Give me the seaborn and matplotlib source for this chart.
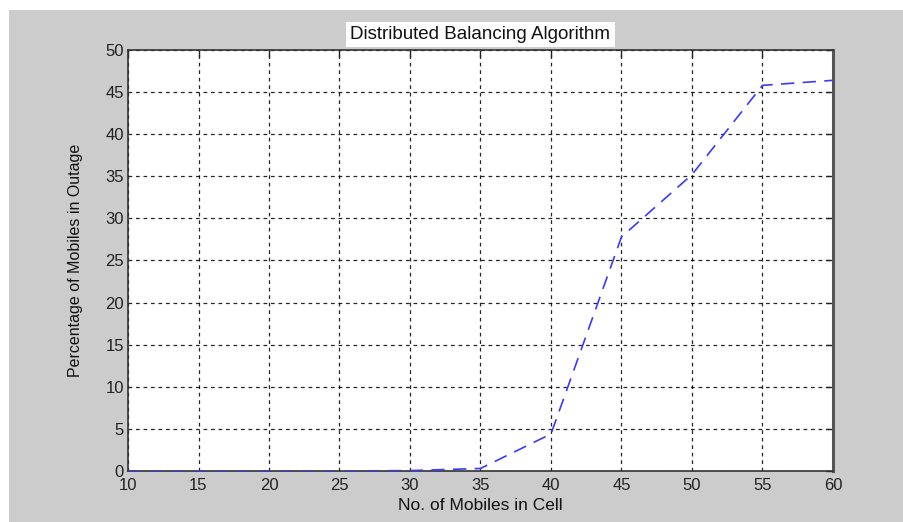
import matplotlib
matplotlib.use("Agg")
import matplotlib.pyplot as plt
import seaborn as sns
import pandas as pd
from matplotlib.patches import Rectangle

# Values
num_mobiles = [10, 15, 20, 25, 30, 35, 40, 45, 50, 55, 60]
outage_pct = [0.0, 0.0, 0.0, 0.0, 0.05, 0.3, 4.4, 27.8, 35.2, 45.8, 46.4]
x_ticks = [10, 15, 20, 25, 30, 35, 40, 45, 50, 55, 60]
y_ticks = [0, 5, 10, 15, 20, 25, 30, 35, 40, 45, 50]

df = pd.DataFrame({"mobiles": num_mobiles, "outage": outage_pct})

sns.set_style("white")
plt.rcParams["font.family"] = ["Liberation Sans", "DejaVu Sans"]

fig = plt.figure(figsize=(9.04, 5.22), dpi=100, facecolor="white")
# gray window background, white strip on top and left
fig.add_artist(Rectangle((9 / 904, 0), 1 - 9 / 904, 1 - 10 / 522,
                         transform=fig.transFigure, facecolor="#cccccc",
                         edgecolor="none", zorder=-10))

ax = fig.add_axes([128 / 904, 1 - 471 / 522, (833 - 128) / 904, (471 - 50) / 522])
ax.set_facecolor("white")

sns.lineplot(data=df, x="mobiles", y="outage", ax=ax, color="#3a3aff",
             linewidth=1.2, linestyle=(0, (8, 5)), zorder=3)

ax.set_xlim(10, 60)
ax.set_ylim(0, 50)
ax.set_xticks(x_ticks)
ax.set_yticks(y_ticks)
ax.grid(True, color="black", linestyle=(0, (3, 3)), linewidth=0.9, alpha=0.85)
ax.tick_params(direction="in", length=5, width=1, top=True, right=True,
               labelsize=12, colors="#222222", pad=3)
ax.tick_params(axis="x", pad=5)
for s in ax.spines.values():
    s.set_visible(True)
    s.set_color("#333333")
    s.set_linewidth(1.2)
ax.spines["right"].set_linewidth(2.2)
ax.spines["right"].set_color("#555555")

ax.set_xlabel("No. of Mobiles in Cell", fontsize=12.5, color="#111111", labelpad=4)
ax.set_ylabel("Percentage of Mobiles in Outage", fontsize=11.5, color="#111111", labelpad=16)
ax.set_title("Distributed Balancing Algorithm", fontsize=13.5, color="#111111", pad=8,
             bbox=dict(facecolor="white", edgecolor="none", pad=3))

fig.savefig("out.png", dpi=100, facecolor=fig.get_facecolor())
